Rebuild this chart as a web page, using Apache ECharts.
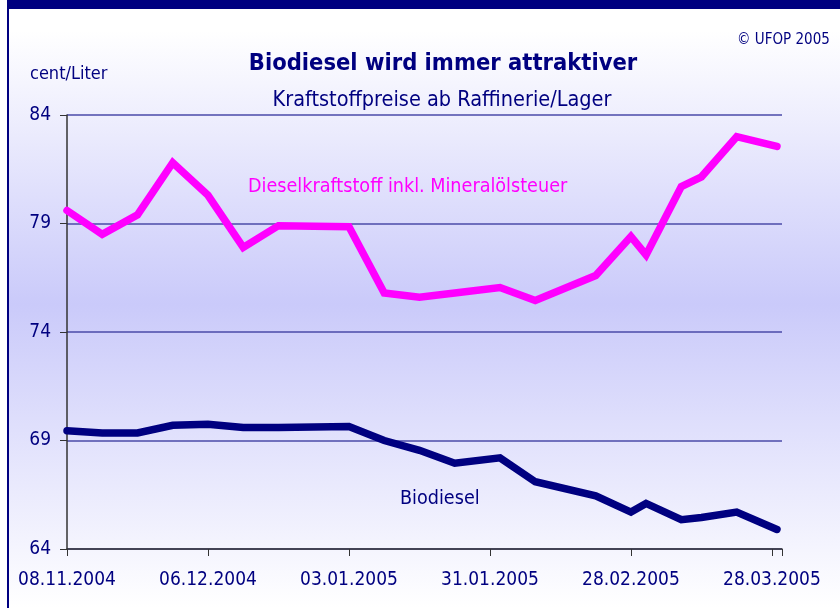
<!DOCTYPE html>
<html>
<head>
<meta charset="utf-8">
<script src="https://cdn.jsdelivr.net/npm/echarts@6/dist/echarts.min.js"></script>
<style>
  html, body { margin: 0; padding: 0; background: #fff; }
  #chart { width: 840px; height: 608px; }
</style>
</head>
<body>
<div id="chart"></div>
<script>
// Messtage (Datum der Preisnotierung)
var dates = ['08.11.2004', '15.11.2004', '22.11.2004', '29.11.2004', '06.12.2004', '13.12.2004',
  '20.12.2004', '03.01.2005', '10.01.2005', '17.01.2005', '24.01.2005', '02.02.2005', '09.02.2005',
  '21.02.2005', '28.02.2005', '03.03.2005', '10.03.2005', '14.03.2005', '21.03.2005', '29.03.2005'];
// cent/Liter
var diesel = [79.6, 78.5, 79.4, 81.8, 80.3, 77.9, 78.9, 78.85, 75.8, 75.6, 75.8, 76.05, 75.45,
  76.6, 78.4, 77.55, 80.7, 81.15, 83.0, 82.55];
var biodiesel = [69.45, 69.35, 69.35, 69.7, 69.75, 69.6, 69.6, 69.65, 69.0, 68.55, 67.95, 68.2,
  67.1, 66.45, 65.7, 66.1, 65.35, 65.45, 65.7, 64.9];
var tickLabels = ['08.11.2004', '06.12.2004', '03.01.2005', '31.01.2005', '28.02.2005', '28.03.2005'];
var lastDay = '30.03.2005';

var navy = '#000080';
var font = "'Liberation Sans Narrow', 'DejaVu Sans Condensed', 'Roboto', sans-serif";

function toDay(s) {
  var p = s.split('.');
  var start = Date.UTC(2004, 10, 8);
  return Math.round((Date.UTC(+p[2], +p[1] - 1, +p[0]) - start) / 86400000);
}
function pairs(vals) {
  return vals.map(function (v, i) { return [toDay(dates[i]), v]; });
}

var Echart = echarts.init(document.getElementById('chart'));
var option = {
  backgroundColor: new echarts.graphic.LinearGradient(0, 0, 0, 1, [
    { offset: 0, color: '#ffffff' },
    { offset: 0.05, color: '#ffffff' },
    { offset: 0.5, color: '#cacafa' },
    { offset: 1, color: '#ffffff' }
  ]),
  animation: false,
  title: [{
    text: 'Biodiesel wird immer attraktiver',
    left: 438, top: 47, textAlign: 'center',
    textStyle: { color: navy, fontFamily: font, fontWeight: 'bold', fontSize: 23.5 }
  }, {
    text: 'Kraftstoffpreise ab Raffinerie/Lager',
    left: 437, top: 84, textAlign: 'center',
    textStyle: { color: navy, fontFamily: font, fontWeight: 'normal', fontSize: 21.5 }
  }],
  grid: { left: 67, right: 58, top: 115, bottom: 59, containLabel: false },
  xAxis: {
    type: 'value',
    min: 0,
    max: toDay(lastDay),
    interval: 28,
    axisLine: { lineStyle: { color: '#333', width: 1.5 } },
    axisTick: { show: true, length: 7, lineStyle: { color: '#333' } },
    splitLine: { show: false },
    axisLabel: {
      margin: 22,
      color: navy, fontFamily: font, fontSize: 19,
      formatter: function (v) { return tickLabels[v / 28] || ''; }
    }
  },
  yAxis: {
    type: 'value',
    min: 64, max: 84, interval: 5,
    axisLine: { show: true, lineStyle: { color: '#333', width: 1.5 } },
    axisTick: { show: true, length: 7, lineStyle: { color: '#333' } },
    splitLine: { show: true, lineStyle: { color: '#4a4aa8', width: 1.5 } },
    axisLabel: { margin: 16, color: navy, fontFamily: font, fontSize: 19 }
  },
  graphic: [
    { type: 'rect', shape: { x: 0, y: 0, width: 7, height: 608 }, style: { fill: '#fff' } },
    { type: 'rect', shape: { x: 7, y: 0, width: 833, height: 9 }, style: { fill: navy } },
    { type: 'rect', shape: { x: 7, y: 0, width: 2, height: 608 }, style: { fill: navy } },
    { type: 'text', left: 30, top: 65, style: { text: 'cent/Liter', fill: navy, font: '18px ' + font } },
    { type: 'text', left: 737, top: 33, style: { text: '© UFOP 2005', fill: navy, font: '15px ' + font } },
    { type: 'text', left: 248, top: 177, style: { text: 'Dieselkraftstoff inkl. Mineralölsteuer', fill: '#ff00ff', font: '19.6px ' + font } },
    { type: 'text', left: 400, top: 489, style: { text: 'Biodiesel', fill: navy, font: '19.6px ' + font } }
  ],
  series: [{
    name: 'Dieselkraftstoff inkl. Mineralölsteuer',
    type: 'line',
    data: pairs(diesel),
    symbol: 'none',
    lineStyle: { color: '#ff00ff', width: 7.5, cap: 'round', join: 'miter' }
  }, {
    name: 'Biodiesel',
    type: 'line',
    data: pairs(biodiesel),
    symbol: 'none',
    lineStyle: { color: navy, width: 7.5, cap: 'round', join: 'miter' }
  }]
};
Echart.setOption(option);
</script>
</body>
</html>
